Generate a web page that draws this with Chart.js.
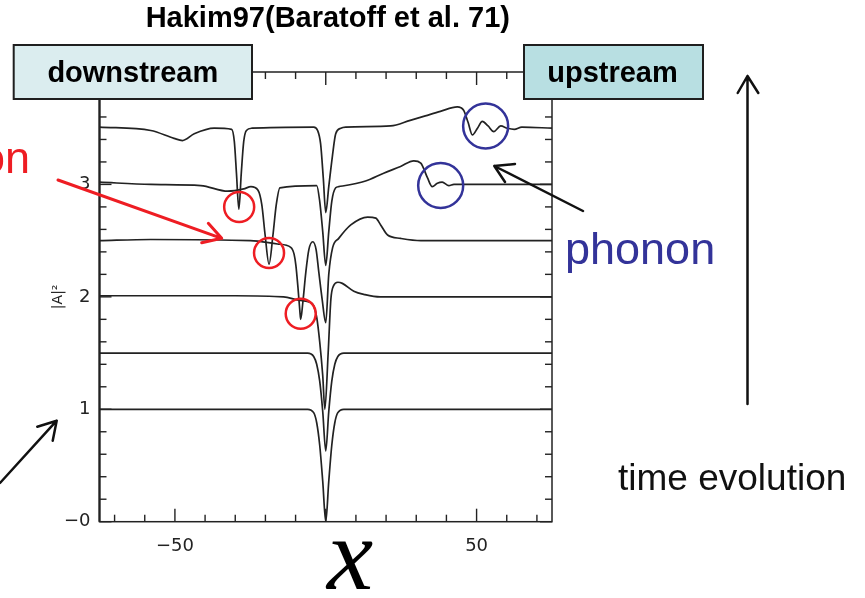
<!DOCTYPE html>
<html>
<head>
<meta charset="utf-8">
<script src="https://cdn.jsdelivr.net/npm/chart.js@4"></script>
<style>
  body { margin: 0; background: #fff; }
  #wrap { position: relative; width: 865px; height: 598px; }
  #wrap canvas, #wrap svg { position: absolute; left: 0; top: 0; }
  svg text { font-family: "Liberation Sans", Arial, sans-serif; }
</style>
</head>
<body>
<div id="wrap">
<canvas id="Grafica" width="865" height="598"></canvas>
<svg width="865" height="598" style="pointer-events:none">
  <text x="327.8" y="27.3" text-anchor="middle" font-weight="bold" font-size="29">Hakim97(Baratoff et al. 71)</text>

  <rect x="13.7" y="45" width="238.3" height="54" fill="#dbedef" stroke="#1f1f1f" stroke-width="2"/>
  <text x="132.8" y="82" text-anchor="middle" font-weight="bold" font-size="29">downstream</text>
  <rect x="524" y="45" width="179" height="54" fill="#b8dfe2" stroke="#1f1f1f" stroke-width="2"/>
  <text x="612.5" y="82" text-anchor="middle" font-weight="bold" font-size="29">upstream</text>

  <text x="30" y="173" text-anchor="end" fill="#ee1d23" font-size="45">on</text>
  <text x="565" y="264" fill="#333399" font-size="45">phonon</text>
  <text x="618" y="490" fill="#111" font-size="37">time evolution</text>
  <text x="350" y="589" text-anchor="middle" font-style="italic" font-size="104" style="font-family:'Liberation Serif','Times New Roman',serif">x</text>

  <!-- arrows -->
  <g fill="none" stroke-linecap="round" stroke-linejoin="round">
    <path d="M58 180 L221.7 238.3 M208.3 223.3 L221.7 238.3 L201.7 242.7" stroke="#ee1d23" stroke-width="3"/>
    <path d="M583 211 L494.3 166 M515 164 L494.3 166 L505 182" stroke="#111" stroke-width="2.5"/>
    <path d="M747.5 404 L747.5 76 M737.7 93 L747.5 76 L758.3 93" stroke="#111" stroke-width="2.5"/>
    <path d="M0 483 L56.7 420.7 M37.3 426.7 L56.7 420.7 L52.7 440.7" stroke="#111" stroke-width="2.5"/>
  </g>
</svg>
</div>
<script>
// |A|^2 traces, bottom (earliest) to top (latest), each shifted up by 0.5
const t1x = [-75, -6, -4, -3, -2, -1, 0, 1, 2, 3, 4, 6, 75];
const t1y = [1.0, 1.0, 0.97, 0.88, 0.68, 0.36, 0.0, 0.36, 0.68, 0.88, 0.97, 1.0, 1.0];

const t2x = [-75, -6, -4, -3, -2, -1, 0, 1, 2, 3, 4, 6, 75];
const t2y = [1.5, 1.5, 1.47, 1.4, 1.25, 0.98, 0.63, 0.98, 1.25, 1.4, 1.47, 1.5, 1.5];

const t3x = [-75, -30, -14, -9, -5, -4, -3, -2, -1, -0.3, 0.8, 1.7, 2.6, 4, 5.5, 9.3, 13, 18, 75];
const t3y = [2.01, 2.01, 2.0, 1.97, 1.95, 1.92, 1.82, 1.6, 1.3, 1.0, 1.5, 1.98, 2.1, 2.13, 2.12, 2.05, 2.02, 2.0, 2.0];

const t4x = [-75, -58, -25, -16, -11.6, -10.5, -9.9, -9.2, -8.6, -8.3, -7.6, -6.6, -5.6, -4.3, -3.2, -2.3, -1.2, 0, 1, 2.3, 4.3, 8.3, 13.9, 16.6, 18.2, 20.5, 24.8, 31.5, 75];
const t4y = [2.5, 2.51, 2.5, 2.47, 2.44, 2.38, 2.28, 2.08, 1.88, 1.80, 1.95, 2.22, 2.42, 2.49, 2.42, 2.22, 1.98, 1.77, 2.2, 2.44, 2.52, 2.64, 2.71, 2.70, 2.64, 2.55, 2.52, 2.5, 2.5];

const t5x = [-75, -58, -41.4, -32.5, -27.2, -24.8, -22.5, -21.2, -20.1, -18.8, -17.5, -16.4, -15.2, -3, -2, -1, 0, 1, 2, 3.3, 4.3, 13.2, 19.2, 24.8, 29.2, 31.5, 33.7, 35.3, 37, 38.6, 40.8, 42.5, 75];
const t5y = [3.02, 3.0, 2.99, 2.94, 2.96, 2.98, 2.95, 2.82, 2.55, 2.29, 2.55, 2.82, 2.97, 2.99, 2.85, 2.58, 2.28, 2.58, 2.85, 2.97, 2.98, 3.03, 3.10, 3.16, 3.21, 3.19, 3.06, 2.98, 3.01, 3.02, 2.99, 3.0, 3.0];

const t6x = [-75, -58, -50.3, -47.5, -43.6, -37, -31.2, -30.3, -29.6, -28.8, -28.0, -27.2, -26.3, -24.5, -4, -2.7, -1.7, -0.8, 0, 1, 2.2, 3.3, 5, 6.6, 21.5, 28, 33, 38, 43.6, 45.7, 47.2, 48.6, 50.3, 51.9, 53.8, 55.7, 58, 60.2, 62.5, 65, 75];
const t6y = [3.51, 3.48, 3.41, 3.39, 3.45, 3.5, 3.49, 3.38, 3.1, 2.78, 3.1, 3.38, 3.48, 3.5, 3.51, 3.48, 3.36, 3.05, 2.75, 2.98, 3.25, 3.45, 3.5, 3.51, 3.52, 3.57, 3.61, 3.65, 3.69, 3.66, 3.55, 3.44, 3.5, 3.56, 3.52, 3.47, 3.52, 3.50, 3.49, 3.51, 3.5];

// axis ticks and labels
const xTicks = [-70, -60, -50, -40, -30, -20, -10, 0, 10, 20, 30, 40, 50, 60, 70];
const xMajor = [-50, 0, 50];
const xLabelValues = [-50, 50];
const xLabelText = ['\u221250', '50'];
const yTicks = [0, 0.2, 0.4, 0.6, 0.8, 1, 1.2, 1.4, 1.6, 1.8, 2, 2.2, 2.4, 2.6, 2.8, 3, 3.2, 3.4, 3.6, 3.8, 4];
const yMajor = [0, 1, 2, 3, 4];
const yLabelValues = [0, 1, 2, 3];
const yLabelText = ['\u22120', '1', '2', '3'];

// circled features: moving dips and the phonon wiggles
const dipMarkX = [-28.7, -18.8, -8.3];
const dipMarkY = [2.80, 2.39, 1.85];
const phononMarkX = [53.0, 38.1];
const phononMarkY = [3.52, 2.99];

const traces = [[t1x, t1y], [t2x, t2y], [t3x, t3y], [t4x, t4y], [t5x, t5y], [t6x, t6y]];

// boxed frame with inward ticks on all four sides, plus the circles
const frameTicks = {
  id: 'frameTicks',
  afterDatasetsDraw(chart) {
    const {ctx, chartArea: a, scales: {x, y}} = chart;
    const seg = (x1, y1, x2, y2) => { ctx.beginPath(); ctx.moveTo(x1, y1); ctx.lineTo(x2, y2); ctx.stroke(); };
    ctx.save();
    ctx.strokeStyle = '#222';
    ctx.lineWidth = 1.5;
    ctx.strokeRect(a.left, a.top, a.right - a.left, a.bottom - a.top);
    ctx.lineWidth = 2.2;
    seg(a.left, a.top, a.left, a.bottom);
    ctx.lineWidth = 1.4;
    xTicks.forEach(v => {
      const px = x.getPixelForValue(v);
      const len = xMajor.includes(v) ? 13 : 7;
      seg(px, a.bottom, px, a.bottom - len);
      seg(px, a.top, px, a.top + len);
    });
    yTicks.forEach(v => {
      const py = y.getPixelForValue(v);
      const len = yMajor.includes(v) ? 12 : 7;
      seg(a.left, py, a.left + len, py);
      seg(a.right, py, a.right - len, py);
    });
    ctx.lineWidth = 2.5;
    ctx.strokeStyle = '#ee1d23';
    dipMarkX.forEach((v, i) => {
      ctx.beginPath();
      ctx.arc(x.getPixelForValue(v), y.getPixelForValue(dipMarkY[i]), 15, 0, Math.PI * 2);
      ctx.stroke();
    });
    ctx.strokeStyle = '#333399';
    phononMarkX.forEach((v, i) => {
      ctx.beginPath();
      ctx.arc(x.getPixelForValue(v), y.getPixelForValue(phononMarkY[i]), 22.5, 0, Math.PI * 2);
      ctx.stroke();
    });
    ctx.restore();
  }
};

var ctx = document.querySelector('#Grafica').getContext('2d');
var myChart = new Chart(ctx, {
  type: 'line',
  data: {
    datasets: traces.map(([xs, ys]) => ({
      data: xs.map((v, i) => ({x: v, y: ys[i]})),
      borderColor: '#222',
      borderWidth: 1.7,
      pointRadius: 0,
      cubicInterpolationMode: 'monotone',
      fill: false
    }))
  },
  options: {
    responsive: false,
    animation: false,
    devicePixelRatio: 1,
    layout: { padding: { left: 46, top: 72, right: 313, bottom: 0 } },
    plugins: { legend: { display: false }, tooltip: { enabled: false } },
    scales: {
      x: {
        type: 'linear', min: -75, max: 75,
        afterBuildTicks: s => { s.ticks = xTicks.map(v => ({value: v})); },
        afterFit: s => { s.height = 76.3; s.paddingLeft = 0; s.paddingRight = 0; },
        grid: { display: false, drawTicks: false },
        border: { display: false },
        ticks: {
          autoSkip: false, maxRotation: 0, padding: 14, color: '#222',
          font: { family: 'DejaVu Sans', size: 18 },
          callback: v => { const i = xLabelValues.indexOf(v); return i < 0 ? '' : xLabelText[i]; }
        }
      },
      y: {
        type: 'linear', min: 0, max: 4,
        afterBuildTicks: s => { s.ticks = yTicks.map(v => ({value: v})); },
        afterFit: s => { s.width = 53.5; s.paddingTop = 0; s.paddingBottom = 0; },
        grid: { display: false, drawTicks: false },
        border: { display: false },
        title: { display: true, text: '|A|\u00b2', color: '#222', font: { family: 'DejaVu Sans', size: 14 } },
        ticks: {
          autoSkip: false, padding: 9, color: '#222',
          font: { family: 'DejaVu Sans', size: 18 },
          callback: v => { const i = yLabelValues.indexOf(v); return i < 0 ? '' : yLabelText[i]; }
        }
      }
    }
  },
  plugins: [frameTicks]
});
</script>
</body>
</html>
